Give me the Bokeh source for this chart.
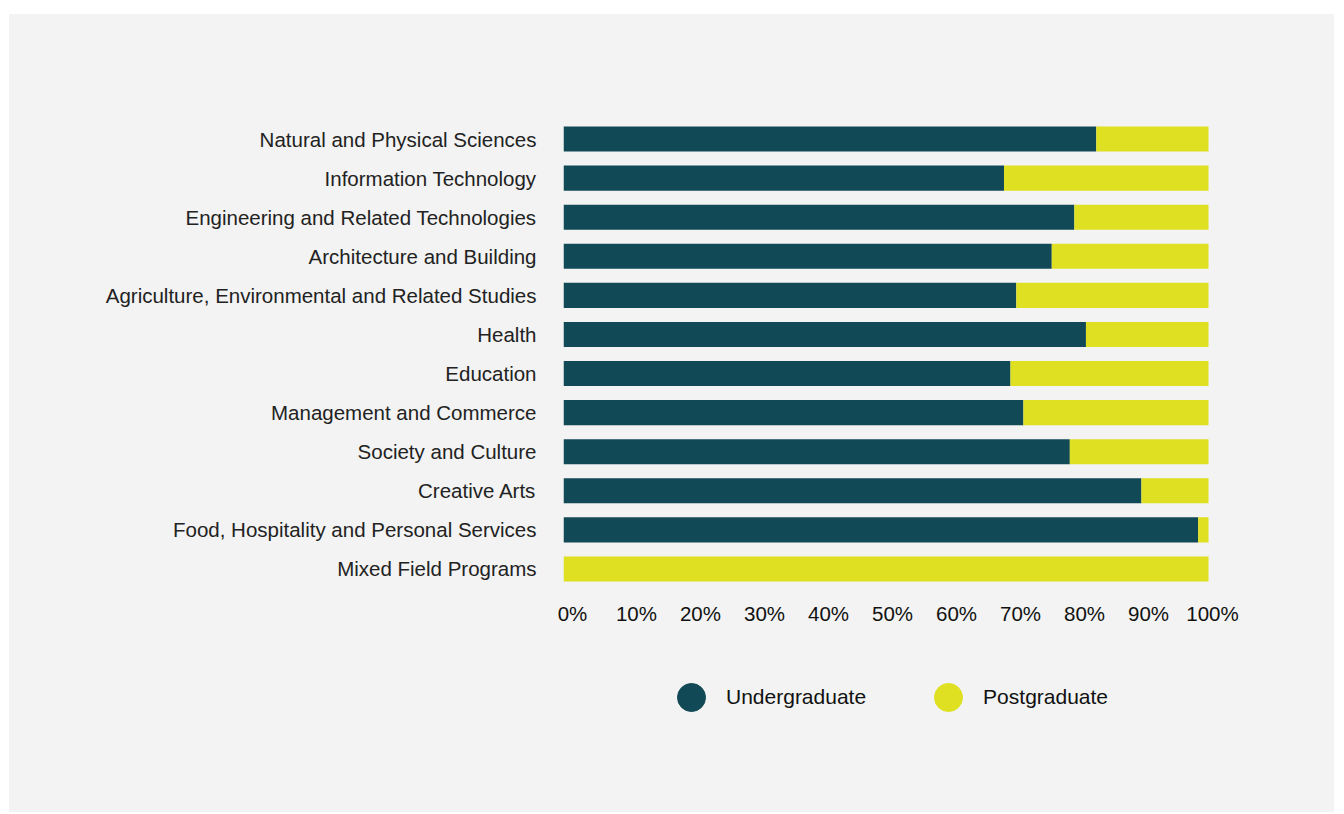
from bokeh.plotting import figure
from bokeh.layouts import column
from bokeh.models import (FactorRange, Range1d, LinearAxis, FixedTicker, Legend,
                          LegendItem, ColumnDataSource)
from bokeh.embed import file_html
from bokeh.resources import INLINE

categories = [
    "Natural and Physical Sciences",
    "Information Technology",
    "Engineering and Related Technologies",
    "Architecture and Building",
    "Agriculture, Environmental and Related Studies",
    "Health",
    "Education",
    "Management and Commerce",
    "Society and Culture",
    "Creative Arts",
    "Food, Hospitality and Personal Services",
    "Mixed Field Programs",
]
undergraduate = [82.6, 68.3, 79.2, 75.7, 70.2, 81.0, 69.3, 71.3, 78.5, 89.6, 98.4, 0.0]
postgraduate = [17.4, 31.7, 20.8, 24.3, 29.8, 19.0, 30.7, 28.7, 21.5, 10.4, 1.6, 100.0]
tick_values = [0, 10, 20, 30, 40, 50, 60, 70, 80, 90, 100]
tick_labels = [f"{v}%" for v in tick_values]
series_names = ["Undergraduate", "Postgraduate"]

TEAL = "#124956"
YELLOW = "#dfe021"
BG = "#f2f3f2"
FONT = "Liberation Sans"

source = ColumnDataSource(dict(category=categories, undergraduate=undergraduate,
                               postgraduate=postgraduate))

p = figure(frame_width=650, frame_height=469,
           y_range=FactorRange(factors=categories[::-1], range_padding=0),
           x_range=Range1d(0, 100.775),
           output_backend="svg", toolbar_location=None,
           x_axis_location=None,
           min_border_left=554, min_border_right=121,
           min_border_top=105, min_border_bottom=52)
p.background_fill_color = BG
p.border_fill_color = BG
p.outline_line_color = None
p.grid.visible = False

p.hbar_stack(["undergraduate", "postgraduate"], y="category", height=0.64,
             color=[TEAL, YELLOW], line_width=0, source=source)

# y axis styling
yax = p.yaxis[0]
yax.axis_line_color = None
yax.major_tick_line_color = None
yax.minor_tick_line_color = None
yax.major_tick_out = 0
yax.major_label_standoff = 27
yax.major_label_text_font = FONT
yax.major_label_text_font_size = "20.5px"
yax.major_label_text_color = "#222222"

# x axis labels (own scale so labels sit where the reference puts them)
p.extra_x_ranges = {"ticks": Range1d(-1.406, 100.156)}
xax = LinearAxis(x_range_name="ticks", ticker=FixedTicker(ticks=tick_values),
                 major_label_overrides={v: l for v, l in zip(tick_values, tick_labels)})
xax.axis_line_color = None
xax.major_tick_line_color = None
xax.minor_tick_line_color = None
xax.major_tick_out = 0
xax.major_label_standoff = 13
xax.major_label_text_font = FONT
xax.major_label_text_font_size = "20.5px"
xax.major_label_text_color = "#111111"
p.add_layout(xax, "below")

# legend strip: a second figure whose frame holds only the legend
lg = figure(width=1325, height=172, x_range=Range1d(0, 1), y_range=Range1d(0, 1),
            output_backend="svg", toolbar_location=None,
            x_axis_location=None, y_axis_location=None,
            min_border_left=0, min_border_right=0, min_border_top=0, min_border_bottom=0)
lg.background_fill_color = None
lg.border_fill_color = BG
lg.outline_line_color = None
lg.grid.visible = False
r1 = lg.scatter(x=[0], y=[0], marker="circle", size=28, color=TEAL, visible=False)
r2 = lg.scatter(x=[0], y=[0], marker="circle", size=28, color=YELLOW, visible=False)
legend = Legend(items=[LegendItem(label=series_names[0], renderers=[r1]),
                       LegendItem(label=series_names[1], renderers=[r2])],
                orientation="horizontal", location=(93, 80),
                glyph_width=70, glyph_height=70, label_standoff=0,
                spacing=47, padding=0, margin=0,
                background_fill_alpha=0, border_line_alpha=0,
                label_text_font=FONT, label_text_font_size="21px",
                label_text_color="#111111")
lg.add_layout(legend, "center")

layout = column(p, lg, spacing=0)
layout.margin = (14, 10, 2, 9)
layout.styles = {"background-color": BG}

open("out.html", "w").write(file_html(layout, INLINE))
